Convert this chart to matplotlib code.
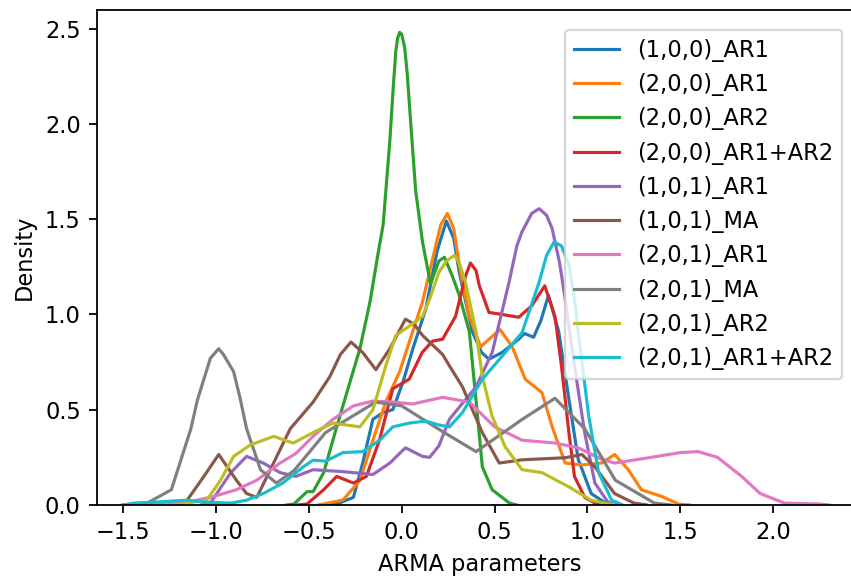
import matplotlib
matplotlib.use("Agg")
import matplotlib.pyplot as plt

# density curves (x = parameter value, y = density)
labels = ["(1,0,0)_AR1", "(2,0,0)_AR1", "(2,0,0)_AR2", "(2,0,0)_AR1+AR2",
          "(1,0,1)_AR1", "(1,0,1)_MA", "(2,0,1)_AR1", "(2,0,1)_MA",
          "(2,0,1)_AR2", "(2,0,1)_AR1+AR2"]

ar1_100_x = [-0.42, -0.35, -0.26, -0.21, -0.155, -0.10, -0.048, 0.005, 0.06, 0.13, 0.19, 0.24, 0.28, 0.31, 0.38,
             0.43, 0.47, 0.54, 0.63, 0.66, 0.71, 0.75, 0.79, 0.845, 0.90, 0.95, 1.02, 1.09, 1.15]
ar1_100_y = [0.0, 0.005, 0.04, 0.22, 0.45, 0.485, 0.50, 0.64, 0.82, 1.03, 1.33, 1.49, 1.40, 1.22, 0.91,
             0.80, 0.765, 0.80, 0.87, 0.90, 0.88, 0.97, 1.10, 0.91, 0.555, 0.24, 0.06, 0.015, 0.0]

ar1_200_x = [-0.45, -0.42, -0.316, -0.225, -0.155, -0.086, -0.011, 0.059, 0.112, 0.166, 0.21, 0.246, 0.28, 0.31,
             0.364, 0.425, 0.47, 0.53, 0.595, 0.665, 0.755, 0.81, 0.88, 0.97, 1.077, 1.146, 1.22, 1.29, 1.40, 1.49, 1.55]
ar1_200_y = [0.0, 0.005, 0.026, 0.13, 0.34, 0.54, 0.70, 0.91, 1.066, 1.29, 1.47, 1.53, 1.45, 1.26,
             0.99, 0.83, 0.87, 0.92, 0.83, 0.66, 0.59, 0.41, 0.22, 0.21, 0.22, 0.265, 0.185, 0.08, 0.045, 0.005, 0.0]

ar2_200_x = [-0.62, -0.58, -0.51, -0.477, -0.42, -0.35, -0.28, -0.225, -0.17, -0.129, -0.10, -0.064, -0.045,
             -0.032, -0.022, -0.011, 0.0, 0.016, 0.03, 0.043, 0.075, 0.112, 0.155, 0.20, 0.23, 0.273, 0.31,
             0.364, 0.40, 0.434, 0.487, 0.58, 0.62]
ar2_200_y = [0.0, 0.005, 0.07, 0.07, 0.17, 0.41, 0.64, 0.82, 1.07, 1.31, 1.47, 1.91, 2.20,
             2.38, 2.45, 2.48, 2.47, 2.40, 2.26, 2.08, 1.65, 1.38, 1.16, 1.28, 1.30, 1.20, 1.10,
             0.91, 0.55, 0.20, 0.08, 0.01, 0.0]

ar12_200_x = [-0.56, -0.51, -0.42, -0.35, -0.26, -0.19, -0.12, -0.048, 0.005, 0.04, 0.11, 0.166, 0.22, 0.29,
              0.343, 0.37, 0.40, 0.418, 0.47, 0.54, 0.63, 0.70, 0.77, 0.825, 0.86, 0.90, 0.93, 0.985, 1.04, 1.10]
ar12_200_y = [0.0, 0.005, 0.08, 0.15, 0.115, 0.15, 0.34, 0.61, 0.64, 0.66, 0.80, 0.86, 0.87, 0.99,
              1.20, 1.27, 1.23, 1.15, 1.01, 1.00, 0.985, 1.045, 1.15, 0.99, 0.73, 0.38, 0.15, 0.04, 0.01, 0.0]

ar1_101_x = [-1.08, -1.03, -0.92, -0.835, -0.745, -0.655, -0.57, -0.477, -0.316, -0.155, -0.064, 0.02, 0.112,
             0.15, 0.20, 0.257, 0.40, 0.487, 0.578, 0.62, 0.648, 0.70, 0.74, 0.78, 0.81, 0.85, 0.88, 0.93,
             0.985, 1.04, 1.11, 1.17]
ar1_101_y = [0.0, 0.01, 0.17, 0.255, 0.22, 0.17, 0.15, 0.185, 0.175, 0.16, 0.22, 0.30, 0.255,
             0.25, 0.31, 0.45, 0.62, 0.80, 1.17, 1.36, 1.435, 1.53, 1.555, 1.52, 1.45, 1.27, 1.08, 0.73,
             0.38, 0.115, 0.015, 0.0]

ma_101_x = [-1.22, -1.155, -1.065, -0.985, -0.89, -0.835, -0.78, -0.675, -0.60, -0.477, -0.386, -0.33, -0.273,
            -0.21, -0.139, -0.064, 0.02, 0.065, 0.112, 0.22, 0.257, 0.327, 0.434, 0.525, 0.648, 0.88, 0.97,
            1.04, 1.146, 1.25, 1.32]
ma_101_y = [0.0, 0.025, 0.15, 0.265, 0.13, 0.06, 0.04, 0.25, 0.40, 0.54, 0.675, 0.79, 0.855,
            0.80, 0.71, 0.82, 0.975, 0.95, 0.89, 0.79, 0.73, 0.62, 0.38, 0.22, 0.237, 0.248, 0.265,
            0.20, 0.06, 0.01, 0.0]

ar1_201_x = [-1.5, -1.44, -1.155, -1.03, -0.89, -0.78, -0.655, -0.57, -0.477, -0.37, -0.26, -0.155, -0.048,
             0.06, 0.22, 0.364, 0.50, 0.648, 0.825, 0.95, 1.077, 1.146, 1.344, 1.50, 1.596, 1.70, 1.83, 1.93,
             2.06, 2.25, 2.30]
ar1_201_y = [0.0, 0.01, 0.015, 0.04, 0.08, 0.13, 0.22, 0.27, 0.36, 0.45, 0.52, 0.545, 0.54,
             0.53, 0.565, 0.54, 0.41, 0.34, 0.325, 0.30, 0.24, 0.22, 0.25, 0.275, 0.28, 0.25, 0.15, 0.06,
             0.01, 0.005, 0.0]

ma_201_x = [-1.5, -1.37, -1.24, -1.135, -1.10, -1.065, -1.03, -0.985, -0.96, -0.905, -0.87, -0.835, -0.76,
            -0.675, -0.58, -0.41, -0.14, 0.0, 0.22, 0.40, 0.65, 0.825, 0.985, 1.15, 1.36, 1.45]
ma_201_y = [0.0, 0.01, 0.08, 0.40, 0.55, 0.66, 0.77, 0.82, 0.79, 0.70, 0.56, 0.40, 0.185,
            0.115, 0.18, 0.38, 0.54, 0.52, 0.385, 0.28, 0.45, 0.56, 0.40, 0.13, 0.01, 0.0]

ar2_201_x = [-1.22, -1.155, -1.05, -0.975, -0.905, -0.815, -0.69, -0.584, -0.477, -0.37, -0.30, -0.225, -0.155,
             -0.086, -0.032, 0.043, 0.112, 0.15, 0.20, 0.24, 0.284, 0.31, 0.343, 0.40, 0.434, 0.487, 0.557,
             0.648, 0.755, 0.90, 1.02, 1.09, 1.15]
ar2_201_y = [0.0, 0.01, 0.025, 0.13, 0.255, 0.315, 0.36, 0.325, 0.38, 0.43, 0.42, 0.41, 0.50,
             0.73, 0.89, 0.94, 0.99, 1.08, 1.22, 1.28, 1.31, 1.27, 1.17, 0.91, 0.675, 0.465, 0.305,
             0.185, 0.17, 0.095, 0.025, 0.01, 0.0]

ar12_201_x = [-1.5, -1.42, -1.155, -1.065, -0.92, -0.835, -0.745, -0.64, -0.53, -0.477, -0.41, -0.316, -0.21,
              -0.118, -0.048, 0.043, 0.128, 0.20, 0.257, 0.327, 0.434, 0.54, 0.648, 0.74, 0.78, 0.82, 0.86,
              0.90, 0.93, 0.955, 1.007, 1.06, 1.13, 1.19]
ar12_201_y = [0.0, 0.01, 0.025, 0.015, 0.01, 0.025, 0.06, 0.115, 0.20, 0.235, 0.23, 0.275, 0.28,
              0.34, 0.41, 0.43, 0.44, 0.42, 0.41, 0.485, 0.66, 0.78, 0.905, 1.17, 1.31, 1.38, 1.36,
              1.26, 1.08, 0.87, 0.465, 0.17, 0.025, 0.0]

curves = [(ar1_100_x, ar1_100_y), (ar1_200_x, ar1_200_y), (ar2_200_x, ar2_200_y), (ar12_200_x, ar12_200_y),
          (ar1_101_x, ar1_101_y), (ma_101_x, ma_101_y), (ar1_201_x, ar1_201_y), (ma_201_x, ma_201_y),
          (ar2_201_x, ar2_201_y), (ar12_201_x, ar12_201_y)]

fig = plt.figure(figsize=(851 / 162, 576 / 162), dpi=162)
# axes run a little past the right edge of the picture, as in the reference crop
ax = fig.add_axes([0.1134, 0.1233, 0.900, 0.8602])

for (xs, ys), lab in zip(curves, labels):
    ax.plot(xs, ys, label=lab, linewidth=1.4)

ax.set_xlim(-1.643, 2.48)
ax.set_ylim(0, 2.60)
ax.set_xlabel("ARMA parameters")
ax.set_ylabel("Density")
ax.legend(loc="upper right", borderaxespad=0.9)

fig.savefig("out.png", dpi=162)
